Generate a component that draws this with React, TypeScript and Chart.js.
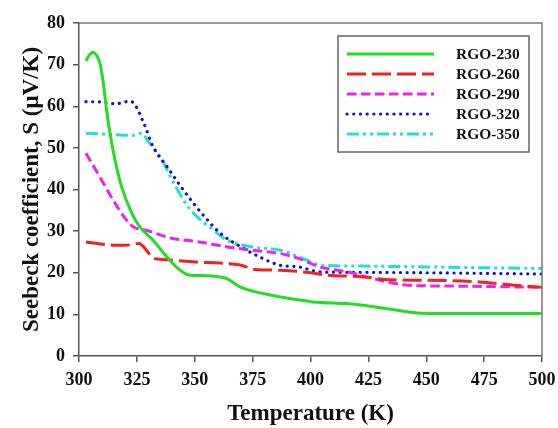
import React, { useEffect, useRef } from "react";
import { Chart, registerables } from "chart.js";

Chart.register(...registerables);

const seriesNames = ["RGO-230", "RGO-260", "RGO-290", "RGO-320", "RGO-350"];

const t230 = [303, 304.5, 306, 307.5, 309, 310.5, 311.7, 313.4, 315.6, 318.4, 322.8, 326.3, 332, 338, 342, 348, 355, 363.8, 369.5, 379.6, 386.8, 401, 415, 420, 435, 448, 470, 500];
const s230 = [70.9, 72.3, 73, 72.3, 70.4, 65.6, 60, 53.5, 47, 40.7, 34.3, 31, 27.8, 23.8, 21.4, 19.4, 19.3, 18.6, 16.6, 15, 14.2, 13, 12.6, 12.4, 11.2, 10.3, 10.2, 10.2];

const t260 = [303, 313, 320, 326, 329, 332, 336, 341, 350, 364, 370, 376, 387, 400, 406, 423, 434, 450, 473, 488, 500];
const s260 = [27.4, 26.7, 26.6, 27, 25.5, 23.5, 23.2, 23, 22.6, 22.2, 21.8, 20.8, 20.6, 20, 19.5, 19, 18.3, 18.2, 17.8, 17, 16.5];

const t290 = [303, 309, 314.7, 320, 323.5, 329, 340, 352, 364, 375, 387, 395, 404, 416, 430, 442, 460, 475, 500];
const s290 = [48.7, 43, 37.5, 33, 31, 30.2, 28.3, 27.4, 26.2, 25.4, 24.6, 23.4, 21.4, 20.2, 18.2, 17, 16.8, 16.7, 16.5];

const t320 = [303, 310, 316, 322, 324, 328, 332, 338, 344, 349, 355, 361, 370, 378, 387, 395, 404, 420, 450, 500];
const s320 = [61.1, 61, 60.6, 61.2, 60.5, 55.9, 50.3, 45.5, 40.7, 37, 33, 29.5, 26.2, 23.8, 21.8, 21.4, 20.2, 20.1, 20, 19.7];

const t350 = [303, 315, 323, 327, 330, 335, 341, 346, 350, 358, 364, 375, 387, 395, 405, 420, 450, 500];
const s350 = [53.5, 53.2, 53, 53.5, 51.5, 47.9, 41.5, 36.7, 34, 30.3, 27.8, 26.2, 25.4, 23.8, 21.8, 21.6, 21.4, 21];

const xTicks = [300, 325, 350, 375, 400, 425, 450, 475, 500];
const yTicks = [0, 10, 20, 30, 40, 50, 60, 70, 80];

const pts = (t: number[], s: number[]) => t.map((x, i) => ({ x, y: s[i] }));

const FONT = "'Liberation Serif', 'Times New Roman', serif";

const frameAndLegend = {
  id: "frameAndLegend",
  afterDraw(chart: any) {
    const { ctx, chartArea } = chart;
    ctx.save();
    ctx.strokeStyle = "#7a7a7a";
    ctx.lineWidth = 1.5;
    ctx.beginPath();
    ctx.moveTo(chartArea.left, chartArea.top);
    ctx.lineTo(chartArea.right, chartArea.top);
    ctx.lineTo(chartArea.right, chartArea.bottom);
    ctx.stroke();

    const bx = 338, by = 36, bw = 191, bh = 116;
    ctx.fillStyle = "#ffffff";
    ctx.fillRect(bx, by, bw, bh);
    ctx.strokeStyle = "#666666";
    ctx.lineWidth = 1.5;
    ctx.strokeRect(bx, by, bw, bh);

    chart.data.datasets.forEach((ds: any, i: number) => {
      const y = 54 + i * 20;
      ctx.save();
      ctx.strokeStyle = ds.borderColor;
      ctx.lineWidth = ds.borderWidth;
      ctx.lineCap = ds.borderCapStyle || "butt";
      ctx.setLineDash(ds.borderDash || []);
      ctx.beginPath();
      ctx.moveTo(347, y);
      ctx.lineTo(434, y);
      ctx.stroke();
      ctx.restore();
      ctx.fillStyle = "#111111";
      ctx.font = `bold 15.5px ${FONT}`;
      ctx.textBaseline = "middle";
      ctx.textAlign = "left";
      ctx.fillText(ds.label, 456, y + 1);
    });
    ctx.restore();
  },
};

export default function App() {
  const ref = useRef<HTMLCanvasElement | null>(null);

  useEffect(() => {
    if (!ref.current) return;
    const common = { pointRadius: 0, fill: false, cubicInterpolationMode: "monotone" as const };
    const chart = new Chart(ref.current, {
      type: "line",
      data: {
        datasets: [
          { label: seriesNames[0], data: pts(t230, s230), borderColor: "#22dd22", borderWidth: 3, borderDash: [], ...common },
          { label: seriesNames[1], data: pts(t260, s260), borderColor: "#ee2222", borderWidth: 3, borderDash: [19, 6], ...common },
          { label: seriesNames[2], data: pts(t290, s290), borderColor: "#ee22ee", borderWidth: 3, borderDash: [9.5, 4.5], ...common },
          { label: seriesNames[3], data: pts(t320, s320), borderColor: "#1414bb", borderWidth: 3.2, borderDash: [0.1, 6.6], borderCapStyle: "round", ...common },
          { label: seriesNames[4], data: pts(t350, s350), borderColor: "#22dddd", borderWidth: 3, borderDash: [12, 4, 3, 4, 3, 4], ...common },
        ] as any,
      },
      options: {
        animation: false,
        responsive: true,
        maintainAspectRatio: false,
        layout: { padding: { top: 23, right: 16, left: 0, bottom: 0 } },
        plugins: { legend: { display: false }, tooltip: { enabled: false } },
        scales: {
          x: {
            type: "linear",
            min: 300,
            max: 500,
            afterFit(scale: any) { scale.height = 72; },
            afterBuildTicks(scale: any) { scale.ticks = xTicks.map((v) => ({ value: v })); },
            border: { display: true, color: "#555555", width: 1.5 },
            grid: { drawOnChartArea: false, drawTicks: true, tickLength: 6, color: "#555555", lineWidth: 1.5 },
            ticks: { color: "#111111", font: { family: FONT, size: 18, weight: "bold", lineHeight: 1.8 }, padding: 2, maxRotation: 0 },
            title: { display: true, text: "Temperature (K)", color: "#111111", font: { family: FONT, size: 23, weight: "bold" }, padding: { top: 0, bottom: 0 } },
          },
          y: {
            type: "linear",
            min: 0,
            max: 80,
            afterFit(scale: any) { scale.width = 79; },
            afterBuildTicks(scale: any) { scale.ticks = yTicks.map((v) => ({ value: v })); },
            border: { display: true, color: "#555555", width: 1.5 },
            grid: { drawOnChartArea: false, drawTicks: true, tickLength: 6, color: "#555555", lineWidth: 1.5 },
            ticks: { color: "#111111", font: { family: FONT, size: 18, weight: "bold" }, padding: 8 },
            title: { display: true, text: "Seebeck coefficient, S (\u03bcV/K)", color: "#111111", font: { family: FONT, size: 23, weight: "bold" }, padding: { top: 18, bottom: 0 } },
          },
        },
      },
      plugins: [frameAndLegend],
    });
    return () => chart.destroy();
  }, []);

  return (
    <div style={{ position: "fixed", left: 0, top: 0, width: 558, height: 428, background: "#ffffff" }}>
      <canvas ref={ref} />
    </div>
  );
}
